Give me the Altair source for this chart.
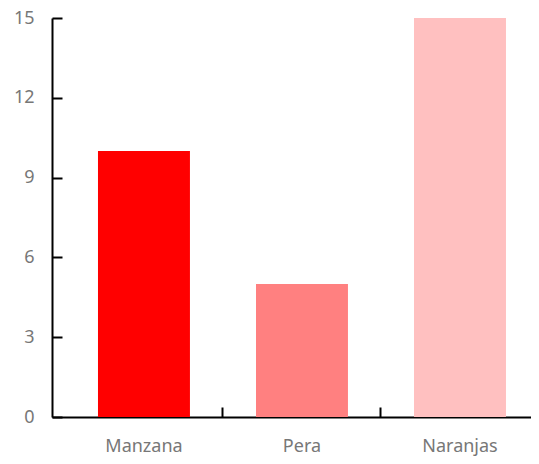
import altair as alt
import pandas as pd

categories = ["Manzana", "Pera", "Naranjas"]
values = [10, 5, 15]
colors = ["#ff0000", "#ff8080", "#ffc0c0"]
y_ticks = [0, 3, 6, 9, 12, 15]
x_tick_cats = ["Pera", "Naranjas"]

df = pd.DataFrame({"fruta": categories, "valor": values})

W, H = 479, 399
FONT = "Noto Sans"
LABEL_COLOR = "#777777"

xscale = alt.Scale(domain=categories, range=[0, 487], paddingInner=0, paddingOuter=0.041, align=1)
yscale = alt.Scale(domain=[0, 15], nice=False)
cscale = alt.Scale(domain=categories, range=colors)

bars = alt.Chart(df).mark_bar(width={"band": 0.582}).encode(
    x=alt.X("fruta:N", sort=categories, scale=xscale, title=None,
            axis=alt.Axis(orient="bottom", domain=True, domainColor="#000000", domainWidth=2,
                          ticks=False, tickSize=0, labelAngle=0, labelFont=FONT, labelFontSize=18,
                          labelColor=LABEL_COLOR, labelBaseline="alphabetic", labelPadding=34,
                          grid=False)),
    y=alt.Y("valor:Q", scale=yscale, title=None,
            axis=alt.Axis(orient="left", values=y_ticks, domain=True, domainColor="#000000",
                          domainWidth=2, ticks=False, tickSize=0, labelFont=FONT, labelFontSize=18,
                          labelColor=LABEL_COLOR, labelPadding=18, grid=False)),
    color=alt.Color("fruta:N", scale=cscale, legend=None),
)

ticks = alt.Chart(df).mark_bar(opacity=0).encode(
    x=alt.X("fruta:N", sort=categories, scale=xscale, title=None,
            axis=alt.Axis(orient="top", offset=-H, domain=False, labels=False, ticks=True,
                          tickSize=10, tickWidth=2, tickColor="#000000", values=x_tick_cats,
                          bandPosition=0, grid=False)),
    y=alt.Y("valor:Q", scale=yscale, title=None,
            axis=alt.Axis(orient="right", offset=-W, domain=False, labels=False, ticks=True,
                          tickSize=10, tickWidth=2, tickColor="#000000", values=y_ticks,
                          grid=False)),
)

chart = alt.layer(bars, ticks).resolve_axis(x="independent", y="independent").properties(
    width=W, height=H,
    autosize=alt.AutoSizeParams(type="none"),
    padding={"left": 44, "top": 10, "right": 0, "bottom": 39},
).configure_view(stroke=None)

chart.save("out.html", embed_options={"renderer": "svg", "actions": False})
